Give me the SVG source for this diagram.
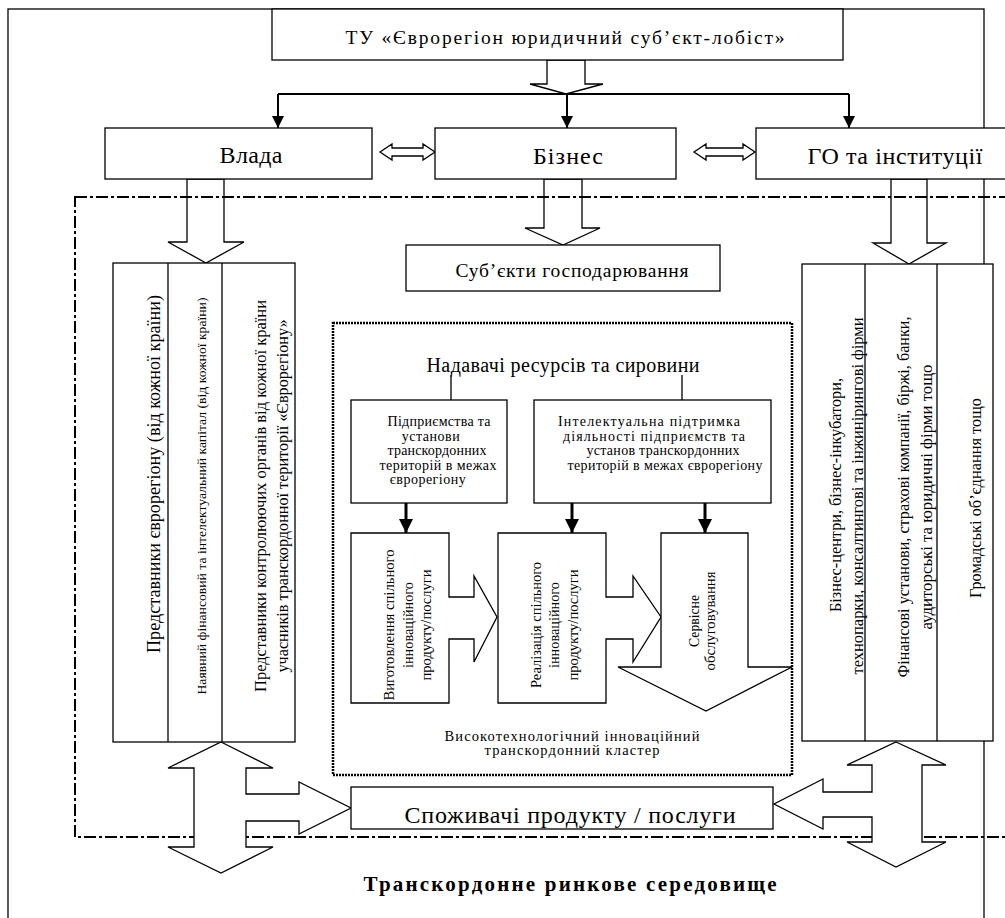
<svg xmlns="http://www.w3.org/2000/svg" width="1005" height="918" viewBox="0 0 1005 918">
<defs>
<style>
.box{fill:#fff;stroke:#000;stroke-width:1.3}
.hol{fill:#fff;stroke:#000;stroke-width:1.3;stroke-linejoin:miter}
.ln{fill:none;stroke:#000;stroke-width:1.3}
.thick{fill:none;stroke:#000;stroke-width:3}
.t{font-family:"Liberation Serif","Times New Roman",serif;fill:#000;text-anchor:middle}
.dd{fill:none;stroke:#000;stroke-width:2;stroke-dasharray:12 3 3 3}
.dot{fill:none;stroke:#000;stroke-width:2.5;stroke-dasharray:2 1}
</style>
<marker id="ah" viewBox="0 0 12 12" refX="12" refY="6" markerWidth="12" markerHeight="12" markerUnits="userSpaceOnUse" orient="auto">
<path d="M0,0 L12,6 L0,12 Z" fill="#000"/>
</marker>
<marker id="ah2" viewBox="0 0 14 14" refX="14" refY="7" markerWidth="14" markerHeight="14" markerUnits="userSpaceOnUse" orient="auto">
<path d="M0,0 L14,7 L0,14 Z" fill="#000"/>
</marker>
</defs>
<rect width="1005" height="918" fill="#fff"/>

<!-- outer frame -->
<rect x="8" y="9" width="976" height="930" class="ln"/>

<g id="connectors">
<polygon class="hol" points="547,60 585,60 585,84 603,84 566,94 530,84 547,84"/>
<path class="ln" d="M278,94 H849" style="stroke-width:2"/>
<path class="ln" d="M278,94 V128" style="stroke-width:2" marker-end="url(#ah)"/>
<path class="ln" d="M567,94 V128" style="stroke-width:2" marker-end="url(#ah)"/>
<path class="ln" d="M849,94 V128" style="stroke-width:2" marker-end="url(#ah)"/>
<polygon class="hol" points="380,152 392,144 392,148 423,148 423,144 435,152 423,160 423,156 392,156 392,160"/>
<polygon class="hol" points="694,152 706,144 706,148 743,148 743,144 755,152 743,160 743,156 706,156 706,160"/>
<polygon class="hol" points="187,179 224,179 224,242 244,242 206,263 168,242 187,242"/>
<polygon class="hol" points="544,179 582,179 582,228 600,228 563,245 525,228 544,228"/>
<polygon class="hol" points="891,179 927,179 927,243 946,243 909,264 873,243 891,243"/>
</g>

<rect x="75" y="197" width="940" height="640" class="dd"/>

<g id="connectors-bottom">
<polygon class="hol" points="221,742 273,768 246,768 246,794 299,794 299,782 351,808 299,834 299,821 246,821 246,847 273,847 221,873 168,847 194,847 194,768 168,768"/>
<polygon class="hol" points="896,742 946,765 922,765 922,842 946,842 896,867 847,842 872,842 872,817 823,817 823,829 774,804 823,779 823,792 872,792 872,765 847,765"/>
<path class="ln" d="M451,375 V400 M682,375 V400"/>
<path class="thick" d="M406,503 V533" marker-end="url(#ah2)"/>
<path class="thick" d="M572,503 V533" marker-end="url(#ah2)"/>
<path class="thick" d="M705,503 V533" marker-end="url(#ah2)"/>
</g>

<g id="top">
<rect class="box" x="272" y="9" width="571" height="51"/>
<text class="t" x="565" y="44" font-size="19.5" textLength="439" lengthAdjust="spacing">ТУ «Єврорегіон юридичний суб’єкт-лобіст»</text>
</g>
<g id="vlada">
<rect class="box" x="105" y="128" width="267" height="51"/>
<text class="t" x="251" y="163" font-size="24" textLength="63" lengthAdjust="spacing">Влада</text>
</g>
<g id="biznes">
<rect class="box" x="435" y="128" width="241" height="51"/>
<text class="t" x="568" y="164" font-size="24" textLength="70" lengthAdjust="spacing">Бізнес</text>
</g>
<g id="go">
<rect class="box" x="756" y="128" width="260" height="51"/>
<text class="t" x="895" y="164" font-size="24" textLength="175" lengthAdjust="spacing">ГО та інституції</text>
</g>

<g id="subjects">
<rect class="box" x="406" y="245" width="314" height="46"/>
<text class="t" x="572" y="277" font-size="19.5" textLength="233" lengthAdjust="spacing">Суб’єкти господарювання</text>
</g>

<g id="left-column">
<rect class="box" x="113" y="263" width="182" height="479"/>
<path class="ln" d="M168,263 V742 M222,263 V742"/>
<text class="t" transform="translate(160,474) rotate(-90)" font-size="18" textLength="358" lengthAdjust="spacingAndGlyphs">Представники єврорегіону (від кожної країни)</text>
<text class="t" transform="translate(206,496) rotate(-90)" font-size="12.5" textLength="397" lengthAdjust="spacingAndGlyphs">Наявний фінансовий та інтелектуальний капітал (від кожної країни)</text>
<text class="t" transform="translate(266,496) rotate(-90)" font-size="17" textLength="392" lengthAdjust="spacingAndGlyphs">Представники контролюючих органів від кожної країни</text>
<text class="t" transform="translate(288,496) rotate(-90)" font-size="17" textLength="353" lengthAdjust="spacingAndGlyphs">учасників транскордонної території «Єврорегіону»</text>
</g>

<g id="right-column">
<rect class="box" x="802" y="264" width="191" height="477"/>
<path class="ln" d="M865,264 V741 M937,264 V741"/>
<text class="t" transform="translate(841,495) rotate(-90)" font-size="16" textLength="234" lengthAdjust="spacingAndGlyphs">Бізнес-центри, бізнес-інкубатори,</text>
<text class="t" transform="translate(863,496) rotate(-90)" font-size="16" textLength="357" lengthAdjust="spacingAndGlyphs">технопарки, консалтингові та інжинірингові фірми</text>
<text class="t" transform="translate(909,497) rotate(-90)" font-size="16" textLength="361" lengthAdjust="spacingAndGlyphs">Фінансові установи, страхові компанії, біржі, банки,</text>
<text class="t" transform="translate(932,497) rotate(-90)" font-size="16" textLength="265" lengthAdjust="spacingAndGlyphs">аудиторські та юридичні фірми тощо</text>
<text class="t" transform="translate(981,498) rotate(-90)" font-size="16" textLength="200" lengthAdjust="spacingAndGlyphs">Громадські об’єднання тощо</text>
</g>

<g id="cluster">
<rect x="333" y="323" width="459" height="452" class="dot"/>
<text class="t" x="563" y="372" font-size="20" textLength="273" lengthAdjust="spacing">Надавачі ресурсів та сировини</text>
<text class="t" x="572" y="741" font-size="14.5" textLength="255" lengthAdjust="spacing">Високотехнологічний інноваційний</text>
<text class="t" x="572" y="755" font-size="14.5" textLength="175" lengthAdjust="spacing">транскордонний кластер</text>
</g>

<g id="enterprises">
<rect class="box" x="351" y="400" width="156" height="103"/>
<text class="t" x="439" y="426" font-size="14" textLength="103" lengthAdjust="spacing">Підприємства та</text>
<text class="t" x="431" y="441" font-size="14" letter-spacing="0.5">установи</text>
<text class="t" x="437" y="455" font-size="14" textLength="99" lengthAdjust="spacing">транскордонних</text>
<text class="t" x="438" y="470" font-size="14" textLength="117" lengthAdjust="spacing">територій в межах</text>
<text class="t" x="428" y="484" font-size="14" letter-spacing="0.5">єврорегіону</text>
</g>

<g id="intellectual">
<rect class="box" x="534" y="400" width="237" height="103"/>
<text class="t" x="649" y="426" font-size="14" textLength="182" lengthAdjust="spacing">Інтелектуальна підтримка</text>
<text class="t" x="654" y="441" font-size="14" textLength="182" lengthAdjust="spacing">діяльності підприємств та</text>
<text class="t" x="663" y="455" font-size="14" textLength="153" lengthAdjust="spacing">установ транскордонних</text>
<text class="t" x="665" y="470" font-size="14" textLength="195" lengthAdjust="spacing">територій в межах єврорегіону</text>
</g>

<g id="production">
<polygon class="hol" points="351,533 449,533 449,597 474,597 474,576 497,617 474,662 474,639 449,639 449,703 351,703"/>
<text class="t" transform="translate(394,625) rotate(-90)" font-size="15" textLength="151" lengthAdjust="spacingAndGlyphs">Виготовлення спільного</text>
<text class="t" transform="translate(413,625) rotate(-90)" font-size="15" textLength="86" lengthAdjust="spacingAndGlyphs">інноваційного</text>
<text class="t" transform="translate(431,625) rotate(-90)" font-size="15" textLength="111" lengthAdjust="spacingAndGlyphs">продукту/послуги</text>
</g>

<g id="realization">
<polygon class="hol" points="498,533 606,533 606,597 633,597 633,576 661,617 633,662 633,639 606,639 606,703 498,703"/>
<text class="t" transform="translate(541,625) rotate(-90)" font-size="15" textLength="126" lengthAdjust="spacingAndGlyphs">Реалізація спільного</text>
<text class="t" transform="translate(559,625) rotate(-90)" font-size="15" textLength="86" lengthAdjust="spacingAndGlyphs">інноваційного</text>
<text class="t" transform="translate(578,625) rotate(-90)" font-size="15" textLength="111" lengthAdjust="spacingAndGlyphs">продукту/послуги</text>
</g>

<g id="service">
<polygon class="hol" points="661,533 748,533 748,667 792,667 706,711 618,667 661,667"/>
<text class="t" transform="translate(699,621) rotate(-90)" font-size="15" textLength="52" lengthAdjust="spacingAndGlyphs">Сервісне</text>
<text class="t" transform="translate(715,621) rotate(-90)" font-size="15" textLength="99" lengthAdjust="spacingAndGlyphs">обслуговування</text>
</g>

<g id="consumers">
<rect class="box" x="351" y="787" width="422" height="42"/>
<text class="t" x="570" y="823" font-size="24" textLength="331" lengthAdjust="spacing">Споживачі продукту / послуги</text>
</g>

<text class="t" x="570" y="891" font-size="21" font-weight="bold" textLength="413" lengthAdjust="spacing">Транскордонне ринкове середовище</text>
</svg>
